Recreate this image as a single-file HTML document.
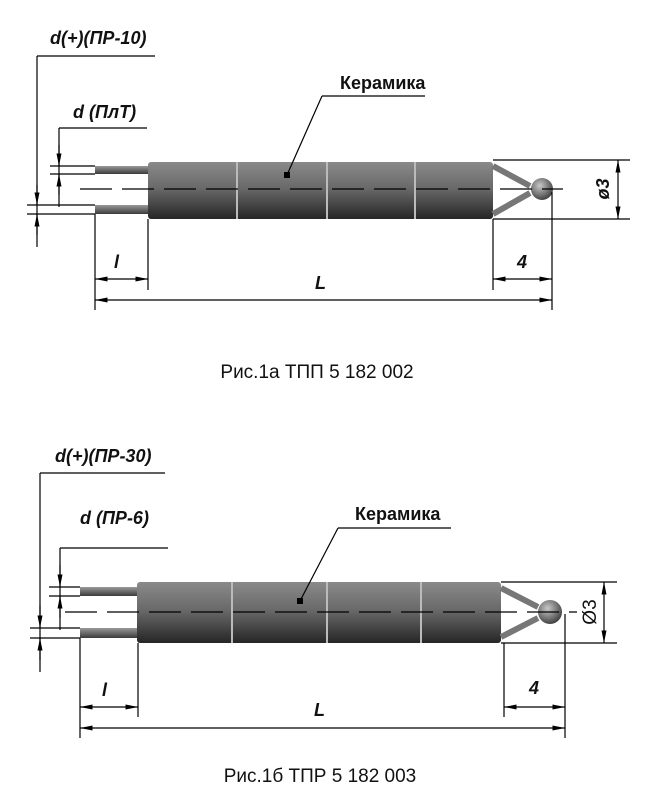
<!DOCTYPE html>
<html><head><meta charset="utf-8"><style>
html,body{margin:0;padding:0;background:#fff;}
svg{display:block;}
.t{font-family:"Liberation Sans",sans-serif;font-style:italic;font-weight:bold;font-size:18px;fill:#111;}
.k{font-family:"Liberation Sans",sans-serif;font-weight:bold;font-size:18px;fill:#111;}
.c{font-family:"Liberation Sans",sans-serif;font-size:19px;fill:#111;}
</style></head><body>
<svg width="663" height="800" viewBox="0 0 663 800" xmlns="http://www.w3.org/2000/svg">
<defs>
<linearGradient id="bg" x1="0" y1="0" x2="0" y2="1">
<stop offset="0" stop-color="#8a8a8a"/><stop offset="0.45" stop-color="#6a6a6a"/><stop offset="1" stop-color="#262626"/>
</linearGradient>
<linearGradient id="wg" x1="0" y1="0" x2="0" y2="1">
<stop offset="0" stop-color="#9a9a9a"/><stop offset="1" stop-color="#3a3a3a"/>
</linearGradient>
<radialGradient id="ball" cx="0.4" cy="0.35" r="0.7">
<stop offset="0" stop-color="#c8c8c8"/><stop offset="1" stop-color="#3a3a3a"/>
</radialGradient>
<marker id="a" viewBox="0 0 10 4" refX="10" refY="2" markerWidth="16" markerHeight="5" orient="auto-start-reverse" markerUnits="userSpaceOnUse"><path d="M0,0 L10,2 L0,4 z" fill="#000"/></marker>
</defs>
<g stroke="#000" stroke-width="1.2" fill="none">
<line x1="37" y1="56" x2="155" y2="56"/>
<line x1="37" y1="56" x2="37" y2="247"/>
<line x1="59" y1="128" x2="147" y2="128"/>
<line x1="59" y1="128" x2="59" y2="207"/>
<line x1="50" y1="166" x2="95" y2="166"/><line x1="50" y1="174" x2="95" y2="174"/>
<line x1="27" y1="205" x2="95" y2="205"/><line x1="27" y1="214" x2="95" y2="214"/>
<line x1="59" y1="145" x2="59" y2="166" marker-end="url(#a)"/>
<line x1="59" y1="195" x2="59" y2="174" marker-end="url(#a)"/>
<line x1="37" y1="185" x2="37" y2="205" marker-end="url(#a)"/>
<line x1="37" y1="235" x2="37" y2="214" marker-end="url(#a)"/>
</g>
<rect x="95" y="166" width="54" height="8" fill="url(#wg)"/>
<rect x="95" y="205" width="54" height="9" fill="url(#wg)"/>
<rect x="148" y="162" width="345" height="57" rx="3" fill="url(#bg)"/>
<g stroke="#bbb" stroke-width="2"><line x1="237" y1="162" x2="237" y2="219"/><line x1="327" y1="162" x2="327" y2="219"/><line x1="415" y1="162" x2="415" y2="219"/></g>
<path d="M493,166 L530,186 M493,214 L530,193" stroke="#777" stroke-width="6" fill="none"/>
<circle cx="542" cy="189" r="11" fill="url(#ball)"/>
<g stroke="#000" stroke-width="1.2" fill="none">
<line x1="80" y1="189" x2="563" y2="189" stroke-dasharray="32,10"/>
<line x1="493" y1="160" x2="630" y2="160"/><line x1="493" y1="219" x2="630" y2="219"/>
<line x1="618" y1="160" x2="618" y2="219" marker-start="url(#a)" marker-end="url(#a)"/>
<line x1="95" y1="214" x2="95" y2="310"/><line x1="148" y1="219" x2="148" y2="290"/>
<line x1="493" y1="219" x2="493" y2="290"/><line x1="552" y1="192" x2="552" y2="310"/>
<line x1="95" y1="279" x2="148" y2="279" marker-start="url(#a)" marker-end="url(#a)"/>
<line x1="493" y1="279" x2="552" y2="279" marker-start="url(#a)" marker-end="url(#a)"/>
<line x1="95" y1="300" x2="552" y2="300" marker-start="url(#a)" marker-end="url(#a)"/>
<line x1="322" y1="96" x2="425" y2="96"/><line x1="322" y1="96" x2="287" y2="175"/>
</g>
<rect x="284" y="172" width="6" height="6" fill="#000"/>
<text class="t" x="50" y="44">d(+)(ПР-10)</text>
<text class="t" x="73" y="118">d (ПлТ)</text>
<text class="k" x="340" y="89">Керамика</text>
<text class="t" x="114" y="268">l</text>
<text class="t" x="315" y="289">L</text>
<text class="t" x="517" y="268">4</text>
<text class="t" x="606" y="192" transform="rotate(-90 606 189)" text-anchor="middle">ø3</text>
<text class="c" x="317" y="378" text-anchor="middle">Рис.1а ТПП 5 182 002</text>

<g stroke="#000" stroke-width="1.2" fill="none">
<line x1="40" y1="473" x2="165" y2="473"/>
<line x1="40" y1="473" x2="40" y2="672"/>
<line x1="60" y1="548" x2="168" y2="548"/>
<line x1="60" y1="548" x2="60" y2="630"/>
<line x1="49" y1="587" x2="80" y2="587"/><line x1="49" y1="596" x2="80" y2="596"/>
<line x1="30" y1="628" x2="80" y2="628"/><line x1="30" y1="638" x2="80" y2="638"/>
<line x1="60" y1="565" x2="60" y2="587" marker-end="url(#a)"/>
<line x1="60" y1="618" x2="60" y2="596" marker-end="url(#a)"/>
<line x1="40" y1="605" x2="40" y2="628" marker-end="url(#a)"/>
<line x1="40" y1="660" x2="40" y2="638" marker-end="url(#a)"/>
</g>
<rect x="80" y="587" width="58" height="9" fill="url(#wg)"/>
<rect x="80" y="628" width="58" height="10" fill="url(#wg)"/>
<rect x="137" y="582" width="364" height="61" rx="3" fill="url(#bg)"/>
<g stroke="#bbb" stroke-width="2"><line x1="232" y1="582" x2="232" y2="643"/><line x1="327" y1="582" x2="327" y2="643"/><line x1="421" y1="582" x2="421" y2="643"/></g>
<path d="M501,588 L538,607 M501,637 L538,618" stroke="#777" stroke-width="6" fill="none"/>
<circle cx="550" cy="612" r="12" fill="url(#ball)"/>
<g stroke="#000" stroke-width="1.2" fill="none">
<line x1="65" y1="612" x2="577" y2="612" stroke-dasharray="32,10"/>
<line x1="501" y1="582" x2="617" y2="582"/><line x1="501" y1="643" x2="617" y2="643"/>
<line x1="604" y1="582" x2="604" y2="643" marker-start="url(#a)" marker-end="url(#a)"/>
<line x1="80" y1="638" x2="80" y2="738"/><line x1="138" y1="643" x2="138" y2="717"/>
<line x1="504" y1="643" x2="504" y2="717"/><line x1="565" y1="614" x2="565" y2="738"/>
<line x1="80" y1="707" x2="138" y2="707" marker-start="url(#a)" marker-end="url(#a)"/>
<line x1="504" y1="707" x2="565" y2="707" marker-start="url(#a)" marker-end="url(#a)"/>
<line x1="80" y1="728" x2="565" y2="728" marker-start="url(#a)" marker-end="url(#a)"/>
<line x1="338" y1="528" x2="451" y2="528"/><line x1="338" y1="528" x2="300" y2="601"/>
</g>
<rect x="297" y="598" width="6" height="6" fill="#000"/>
<text class="t" x="55" y="462">d(+)(ПР-30)</text>
<text class="t" x="80" y="524">d (ПР-6)</text>
<text class="k" x="355" y="520">Керамика</text>
<text class="t" x="102" y="696">l</text>
<text class="t" x="314" y="716">L</text>
<text class="t" x="529" y="694">4</text>
<text class="c" x="591" y="612" transform="rotate(-90 591 612)" text-anchor="middle" dominant-baseline="middle">Ø3</text>
<text class="c" x="320" y="782" text-anchor="middle">Рис.1б ТПР 5 182 003</text>
</svg>
</body></html>
